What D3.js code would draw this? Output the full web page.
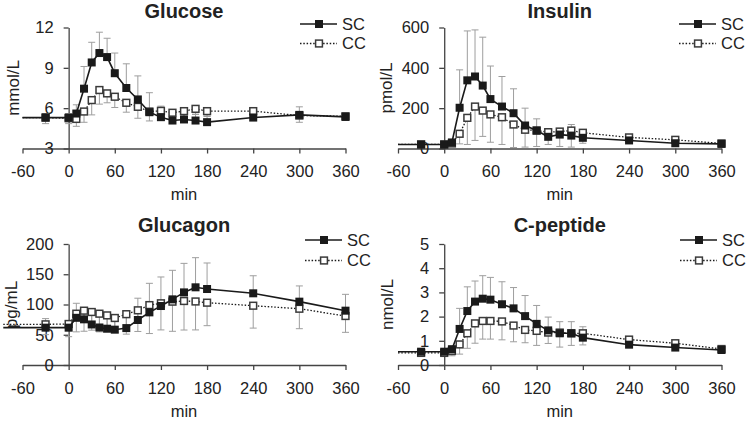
<!DOCTYPE html>
<html><head><meta charset="utf-8">
<script src="https://cdn.jsdelivr.net/npm/d3@7"></script>
<style>
html,body{margin:0;padding:0;background:#fff;}
svg{display:block;font-family:"Liberation Sans",Arial,Helvetica,sans-serif;}
</style></head><body>
<svg id="chart" width="747" height="424"></svg>
<script>
// ---- data ----
const times = [-30,0,10,20,30,40,50,60,75,90,105,120,135,150,165,180,240,300,360];
const xTicks = [-60,0,60,120,180,240,300,360];
const panelTitles = ["Glucose","Insulin","Glucagon","C-peptide"];
const units = ["mmol/L","pmol/L","pg/mL","nmol/L"];
const seriesNames = ["SC","CC"];
const yDomains = [[3,12],[0,600],[0,200],[0,5]];
const yTickValues = [[3,6,9,12],[0,200,400,600],[0,50,100,150,200],[0,1,2,3,4,5]];
const leadTimes = [-60,-60,-85,-60];

const glucoseSC    = [5.3,5.3,5.6,7.45,9.4,10.1,9.8,8.6,7.5,6.65,5.7,5.33,5.08,5.16,5.08,4.96,5.3,5.5,5.35];
const glucoseSCerr = [0.3,0.3,0.65,1.65,1.5,1.55,1.4,1.5,1.8,1.75,1.45,0.82,0.45,0.4,0.45,0.45,0.4,0.6,0.2];
const glucoseCC    = [5.3,5.25,5.2,5.75,6.6,7.35,7.1,6.85,6.4,6.1,5.75,5.8,5.66,5.78,5.95,5.78,5.78,5.45,5.4];
const glucoseCCerr = [0.45,0.4,0.55,0.8,1.1,1.05,0.7,0.8,0.7,0.85,0.7,0.7,0.4,0.4,0.4,0.4,0.3,0.5,0.3];

const insulinSC    = [20,20,30,202,338,357,312,245,208,175,114,89,58,69,64,53,40,26,23];
const insulinSCerr = [5,5,15,188,245,231,240,164,149,121,86,58,30,25,55,36,15,10,5];
const insulinCC    = [20,20,25,73,152,208,188,169,155,119,93,89,81,84,89,78,55,43,25];
const insulinCCerr = [5,5,10,50,132,168,128,138,135,114,86,79,61,74,82,52,15,12,8];

const glucagonSC    = [61.7,61.7,78,75.5,67,62,60,58.4,61,74.4,87,97.5,108.5,120,128.4,125.6,118.5,104.7,89.8];
const glucagonSCerr = [15,10,24,18,22,25,24,22,27,36,48,48,48,48,49,43,29,26,27];
const glucagonCC    = [67.2,67.8,84.8,89.8,87.6,84.8,82,77.7,84,90.4,99,102,104.7,105.8,105,103,98,93,81];
const glucagonCCerr = [17,21,30,34,30,30,27,24,33,35,47,44,49,48,47,38,37,33,27];

const cpepSC    = [0.55,0.55,0.65,1.49,2.23,2.62,2.74,2.7,2.51,2.34,2.02,1.7,1.43,1.31,1.31,1.13,0.84,0.72,0.62];
const cpepSCerr = [0.05,0.05,0.15,0.85,1.0,0.85,0.95,0.92,0.93,0.86,0.85,0.76,0.55,0.48,0.48,0.45,0.1,0.1,0.08];
const cpepCC    = [0.5,0.5,0.58,0.85,1.31,1.72,1.82,1.82,1.8,1.63,1.45,1.41,1.34,1.34,1.31,1.31,1.05,0.9,0.66];
const cpepCCerr = [0.05,0.05,0.2,0.4,0.62,0.82,0.75,0.75,0.76,0.67,0.53,0.6,0.45,0.6,0.5,0.48,0.1,0.1,0.08];

const panelSeries = [
  [[glucoseSC, glucoseSCerr], [glucoseCC, glucoseCCerr]],
  [[insulinSC, insulinSCerr], [insulinCC, insulinCCerr]],
  [[glucagonSC, glucagonSCerr], [glucagonCC, glucagonCCerr]],
  [[cpepSC, cpepSCerr], [cpepCC, cpepCCerr]]
];

// ---- layout ----
const layout = [
  {xr:[22.5,345.5], yr:[148.5,27.5], titleY:18,  ylabX:13,   legX:300, legY:[24,43.5],  minY:199.5},
  {xr:[398,721.5],  yr:[148.5,27.5], titleY:18,  ylabX:386,  legX:679, legY:[24,43.5],  minY:199.5},
  {xr:[22.5,345.5], yr:[365,244],    titleY:232, ylabX:11.5, legX:305, legY:[240,260.5], minY:416.5},
  {xr:[398,721.5],  yr:[365,244],    titleY:232, ylabX:387,  legX:680, legY:[240,260.5], minY:416.5}
];

const FONT = '"Liberation Sans",Arial,Helvetica,sans-serif';
const textCol = "#222", axisCol = "#444", errCol = "#9e9e9e", lineCol = "#1a1a1a";
const svg = d3.select("#chart");

function marker(g, kind, cx, cy) {
  if (kind === 0) {
    g.append("rect").attr("x", cx-4).attr("y", cy-4).attr("width", 8).attr("height", 8)
      .attr("fill", "#1a1a1a");
  } else {
    g.append("rect").attr("x", cx-3.4).attr("y", cy-3.4).attr("width", 6.8).attr("height", 6.8)
      .attr("fill", "#fff").attr("stroke", "#3a3a3a").attr("stroke-width", 1.5);
  }
}

panelSeries.forEach((series, p) => {
  const L = layout[p];
  const x = d3.scaleLinear().domain([xTicks[0], xTicks[xTicks.length-1]]).range(L.xr);
  const y = d3.scaleLinear().domain(yDomains[p]).range(L.yr);
  const g = svg.append("g");

  // axes
  const xa = g.append("g").attr("transform", `translate(0,${y(yDomains[p][0])})`)
    .call(d3.axisBottom(x).tickValues(xTicks).tickSize(5).tickSizeOuter(0).tickPadding(12).tickFormat(d => String(d)));
  const ya = g.append("g").attr("transform", `translate(${x(0)},0)`)
    .call(d3.axisLeft(y).tickValues(yTickValues[p]).tickSize(5).tickSizeOuter(0).tickPadding(10).tickFormat(d => String(d)));
  [xa, ya].forEach(a => {
    a.select(".domain").attr("stroke", axisCol).attr("stroke-width", 1.3);
    a.selectAll(".tick line").attr("stroke", axisCol).attr("stroke-width", 1.3);
    a.selectAll(".tick text").attr("fill", textCol).style("font-size", "16.5px").style("font-family", FONT);
  });

  // error bars (SC upward, CC downward)
  series.forEach(([vals, errs], s) => {
    const eg = g.append("g").attr("stroke", errCol).attr("stroke-width", 1);
    times.forEach((t, i) => {
      const y0 = y(vals[i]);
      const y1 = y(s === 0 ? vals[i] + errs[i] : vals[i] - errs[i]);
      const cx = x(t);
      eg.append("line").attr("x1", cx).attr("x2", cx).attr("y1", y0).attr("y2", y1);
      eg.append("line").attr("x1", cx-3.5).attr("x2", cx+3.5).attr("y1", y1).attr("y2", y1);
    });
  });

  // lines + markers, CC first then SC on top
  [1, 0].forEach(s => {
    const vals = series[s][0];
    const pts = [{t: leadTimes[p], v: vals[0]}].concat(times.map((t, i) => ({t, v: vals[i]})));
    const line = d3.line().x(d => x(d.t)).y(d => y(d.v));
    g.append("path").datum(pts).attr("d", line).attr("fill", "none")
      .attr("stroke", lineCol).attr("stroke-width", s === 0 ? 1.6 : 1.3)
      .attr("stroke-dasharray", s === 0 ? null : "1.5,1.8");
    const mg = g.append("g");
    times.forEach((t, i) => marker(mg, s, x(t), y(vals[i])));
  });

  // title
  const cx = (L.xr[0] + L.xr[1]) / 2;
  g.append("text").attr("x", cx).attr("y", L.titleY).attr("text-anchor", "middle")
    .style("font-family", FONT).style("font-size", "20px").style("font-weight", "bold")
    .attr("fill", textCol).text(panelTitles[p]);

  // y label
  const ym = (L.yr[0] + L.yr[1]) / 2;
  g.append("text").attr("transform", `translate(${L.ylabX},${ym}) rotate(-90)`)
    .attr("text-anchor", "middle").attr("dy", "0.35em")
    .style("font-family", FONT).style("font-size", "17px").attr("fill", textCol).text(units[p]);

  // x label
  g.append("text").attr("x", cx).attr("y", L.minY).attr("text-anchor", "middle")
    .style("font-family", FONT).style("font-size", "16.5px").attr("fill", textCol).text("min");

  // legend
  seriesNames.forEach((name, s) => {
    const ly = L.legY[s];
    g.append("line").attr("x1", L.legX).attr("x2", L.legX + 37).attr("y1", ly).attr("y2", ly)
      .attr("stroke", lineCol).attr("stroke-width", s === 0 ? 1.6 : 1.3)
      .attr("stroke-dasharray", s === 0 ? null : "1.5,1.8");
    marker(g, s, L.legX + 19, ly);
    g.append("text").attr("x", L.legX + 42).attr("y", ly).attr("dy", "0.36em")
      .style("font-family", FONT).style("font-size", "16.5px").attr("fill", textCol).text(name);
  });
});
</script>
</body></html>
